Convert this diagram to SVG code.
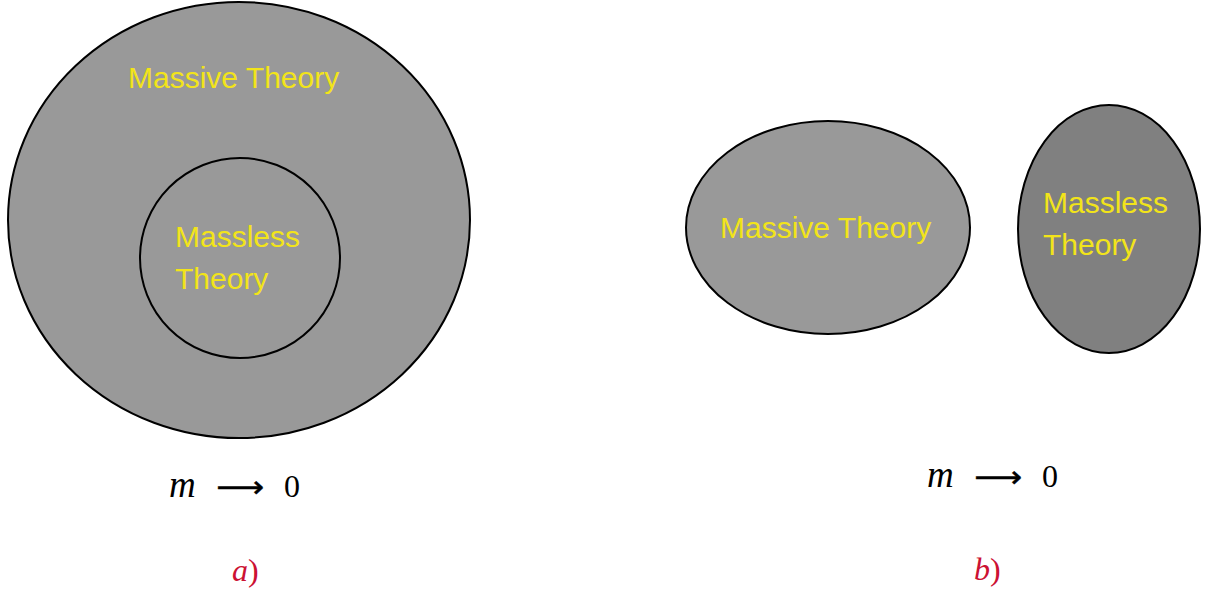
<svg xmlns="http://www.w3.org/2000/svg" width="1210" height="594" viewBox="0 0 1210 594">
<style>
.shape{stroke:#000;stroke-width:2}
.light{fill:#999999}
.dark{fill:#808080}
.lbl{font-family:"Liberation Sans",Arial,sans-serif;font-size:30px;fill:#f2e41a}
.math{font-family:"Liberation Serif","Times New Roman",serif;fill:#000}
.it{font-style:italic}
.arr{font-family:"DejaVu Sans",sans-serif;font-size:30px;fill:#000;stroke:#000;stroke-width:0.4}
.cap{font-family:"Liberation Serif","Times New Roman",serif;font-size:32px;fill:#cc1133}
</style>
<rect width="1210" height="594" fill="#fff"/>
<g id="a-massive">
<ellipse class="shape light" cx="239" cy="220" rx="231" ry="218"/>
<text class="lbl" x="128" y="88">Massive Theory</text>
</g>
<g id="a-massless">
<circle class="shape light" cx="240" cy="258" r="100"/>
<text class="lbl" x="175" y="247">Massless</text>
<text class="lbl" x="175" y="289">Theory</text>
</g>
<g id="b-massive">
<ellipse class="shape light" cx="828" cy="227.5" rx="142" ry="106.5"/>
<text class="lbl" x="720" y="238">Massive Theory</text>
</g>
<g id="b-massless">
<ellipse class="shape dark" cx="1109" cy="229" rx="91" ry="124"/>
<text class="lbl" x="1043" y="213">Massless</text>
<text class="lbl" x="1043" y="255">Theory</text>
</g>
<g id="connectors"></g>
<g id="label-a">
<text class="math it" x="169" y="497" font-size="37">m</text>
<text class="arr" x="216" y="497" textLength="48" lengthAdjust="spacingAndGlyphs">⟶</text>
<text class="math" x="284" y="497" font-size="32">0</text>
<text class="cap" x="232" y="581"><tspan font-style="italic">a</tspan>)</text>
</g>
<g id="label-b">
<text class="math it" x="927" y="487" font-size="37">m</text>
<text class="arr" x="974" y="487" textLength="48" lengthAdjust="spacingAndGlyphs">⟶</text>
<text class="math" x="1042" y="487" font-size="32">0</text>
<text class="cap" x="974" y="580"><tspan font-style="italic">b</tspan>)</text>
</g>
</svg>
